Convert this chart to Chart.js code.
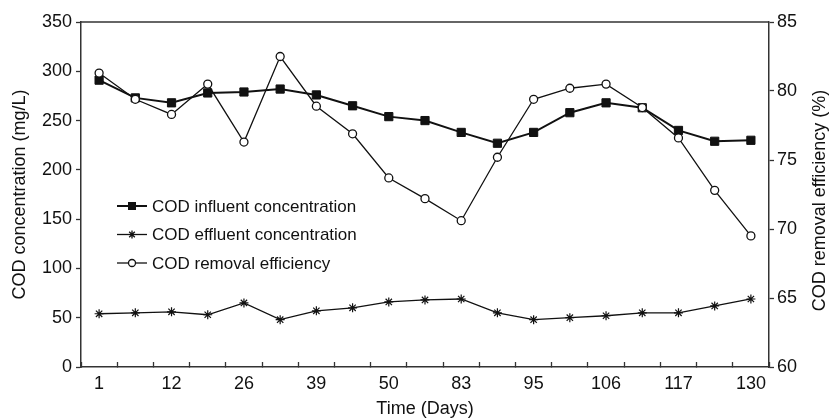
<!DOCTYPE html>
<html><head><meta charset="utf-8">
<script src="https://cdn.jsdelivr.net/npm/chart.js@4.4.0/dist/chart.umd.min.js"></script>
<style>html,body{margin:0;padding:0;background:#fff}#wrap{width:832px;height:420px}</style>
</head><body><div id="wrap"><canvas id="c" width="832" height="420"></canvas></div>
<script>
const tickLabels = ['1','12','26','39','50','83','95','106','117','130'];
const influent = [291,273,268,278,279,282,276,265,254,250,238,227,238,258,268,263,240,229,230];
const effluent = [54,55,56,53,65,48,57,60,66,68,69,55,48,50,52,55,55,62,69];
const efficiency = [81.3,79.4,78.3,80.5,76.3,82.5,78.9,76.9,73.7,72.2,70.6,75.2,79.4,80.2,80.5,78.8,76.6,72.8,69.5];
const seriesNames = ['COD influent concentration','COD effluent concentration','COD removal efficiency'];
const leftTitle = 'COD concentration (mg/L)';
const rightTitle = 'COD removal efficiency (%)';
const xTitle = 'Time (Days)';

const categories = [];
tickLabels.forEach((t,i)=>{ categories.push(t); if(i<tickLabels.length-1) categories.push(''); });

const FONT = 'Liberation Sans, Arial, Helvetica, sans-serif';
const INK = '#111';
const AX = '#333';

const framePlugin = {
  id:'frame',
  afterDraw(chart){
    const {ctx, chartArea:a} = chart;
    ctx.save();
    ctx.strokeStyle = AX; ctx.lineWidth = 1.5;
    ctx.beginPath(); ctx.moveTo(a.left, a.top); ctx.lineTo(a.right, a.top); ctx.stroke();
    // right title (reads bottom to top)
    ctx.fillStyle = INK;
    ctx.font = '18px ' + FONT;
    ctx.textAlign = 'center'; ctx.textBaseline = 'middle';
    ctx.translate(820, (a.top + a.bottom)/2 + 6);
    ctx.rotate(-Math.PI/2);
    ctx.fillText(rightTitle, 0, 0);
    ctx.restore();
    // legend
    ctx.save();
    const x0 = a.left + 36, x1 = a.left + 66, xm = (x0 + x1)/2, tx = a.left + 71;
    const rows = [a.top + 184, a.top + 212.5, a.top + 241];
    ctx.font = '17px ' + FONT;
    ctx.textAlign = 'left'; ctx.textBaseline = 'middle';
    rows.forEach((y,i)=>{
      ctx.strokeStyle = INK; ctx.lineWidth = i===0 ? 2 : 1.3;
      ctx.beginPath(); ctx.moveTo(x0,y); ctx.lineTo(x1,y); ctx.stroke();
      ctx.lineWidth = 1.3;
      if(i===0){ ctx.fillStyle = INK; ctx.fillRect(xm-4, y-4, 8, 8); }
      else if(i===1){
        const r=4, d=r*Math.SQRT1_2;
        ctx.beginPath();
        ctx.moveTo(xm,y-r); ctx.lineTo(xm,y+r);
        ctx.moveTo(xm-d,y-d); ctx.lineTo(xm+d,y+d);
        ctx.moveTo(xm+d,y-d); ctx.lineTo(xm-d,y+d);
        ctx.stroke();
      } else {
        ctx.fillStyle = '#fff';
        ctx.beginPath(); ctx.arc(xm,y,3.5,0,Math.PI*2); ctx.fill(); ctx.stroke();
      }
      ctx.fillStyle = INK;
      ctx.fillText(seriesNames[i], tx, y+1);
    });
    ctx.restore();
  }
};

new Chart(document.getElementById('c'), {
  type:'line',
  data:{
    labels: categories,
    datasets:[
      {label:seriesNames[0], data:influent, yAxisID:'y', borderColor:INK, borderWidth:2,
       pointStyle:'rect', pointRadius:5.8, pointBackgroundColor:INK, pointBorderColor:INK, pointBorderWidth:1, order:1},
      {label:seriesNames[1], data:effluent, yAxisID:'y', borderColor:INK, borderWidth:1.3,
       pointStyle:'star', pointRadius:4.5, pointBackgroundColor:INK, pointBorderColor:INK, pointBorderWidth:1.2, order:2},
      {label:seriesNames[2], data:efficiency, yAxisID:'y1', borderColor:INK, borderWidth:1.3,
       pointStyle:'circle', pointRadius:4, pointBackgroundColor:'#fff', pointBorderColor:INK, pointBorderWidth:1.3, order:0}
    ]
  },
  options:{
    responsive:false, animation:false, devicePixelRatio:1,
    layout:{padding:{top:22,left:0,right:0,bottom:0}},
    plugins:{legend:{display:false}, tooltip:{enabled:false}},
    elements:{line:{tension:0}},
    scales:{
      x:{
        type:'category', offset:true,
        grid:{offset:true, drawOnChartArea:false, tickLength:-5, color:AX, tickWidth:1.3},
        border:{color:AX, width:1.5},
        ticks:{autoSkip:false, maxRotation:0, minRotation:0, padding:11, color:INK, font:{family:FONT, size:18}},
        title:{display:true, text:xTitle, color:INK, font:{family:FONT, size:18}, padding:{top:0,bottom:0}},
        afterFit(s){ s.height = 53; }
      },
      y:{
        position:'left', min:0, max:350,
        grid:{drawOnChartArea:false, tickLength:5, color:AX, tickWidth:1.3},
        border:{color:AX, width:1.5},
        ticks:{stepSize:50, padding:4, color:INK, font:{family:FONT, size:18}},
        title:{display:true, text:leftTitle, color:INK, font:{family:FONT, size:18}, padding:{top:9,bottom:0}},
        afterFit(s){ s.width = 81; }
      },
      y1:{
        position:'right', min:60, max:85,
        grid:{drawOnChartArea:false, tickLength:5, color:AX, tickWidth:1.3},
        border:{color:AX, width:1.5},
        ticks:{stepSize:5, padding:3, color:INK, font:{family:FONT, size:18}},
        afterFit(s){ s.width = 63; }
      }
    }
  },
  plugins:[framePlugin]
});
</script>
</body></html>
